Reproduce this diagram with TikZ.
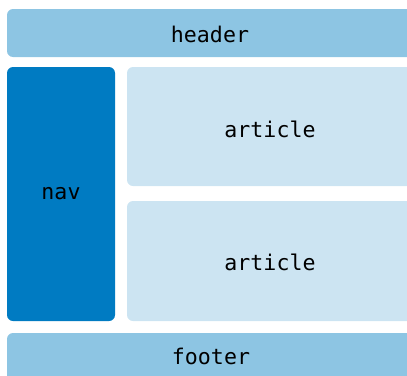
\documentclass[tikz,border=0pt]{standalone}
\usepackage{fontspec}
\setmonofont{DejaVu Sans Mono}
\definecolor{hdr}{HTML}{8DC5E3}
\definecolor{navc}{HTML}{007BC2}
\definecolor{art}{HTML}{CCE4F2}
\begin{document}
\begin{tikzpicture}[x=1pt,y=-1pt,
  box/.style={rounded corners=6pt},
  lbl/.style={font=\ttfamily\fontsize{21.6}{26}\selectfont, text=black, inner sep=0pt}]
\useasboundingbox (0,0) rectangle (407,375);
\clip (0,0) rectangle (407,375);
\fill[hdr,box] (7,9) rectangle (425,57);
\fill[navc,box] (7,67) rectangle (115,321);
\fill[art,box] (127,67) rectangle (425,186);
\fill[art,box] (127,201) rectangle (425,321);
\fill[hdr,box] (7,333) rectangle (425,395);
\node[lbl] (header) at (210,34) {header};
\node[lbl] (nav) at (61,194) {nav};
\node[lbl] (article1) at (270,129) {article};
\node[lbl] (article2) at (270,262) {article};
\node[lbl] (footer) at (211,356) {footer};
\end{tikzpicture}
\end{document}
